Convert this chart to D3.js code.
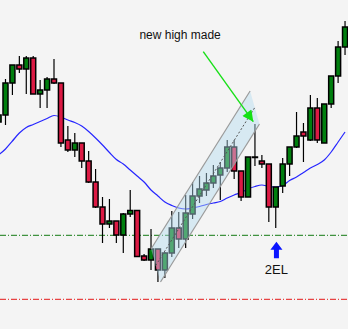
<!DOCTYPE html>
<html>
<head>
<meta charset="utf-8">
<script src="https://cdn.jsdelivr.net/npm/d3@7"></script>
<style>
  body { margin: 0; background: #f4f4f4; }
  svg { display: block; }
</style>
</head>
<body>
<div id="chart"></div>
<script>
// candle data (price units)
const opens  = [207,214,246,264,260,271,235,239,250,246,189,179,186,168,147,122,105,108,94,115,118.5,73,69,80,59,76,101,90,115,133,139,146,154,161,182,158,132,172,168,165,122,143,165,182,197,189,221,186,225,253,282];
const highs  = [217,250,264,273,273,273,249,252,270,246,203,196,186,178,160,132,130,108,116,139,118.5,75,100,80,77,118,117,134,147,153,156,164,167,189,189,158,172,205,174,165,142,171,182,217,206,234,231,225,253,288,308];
const lows   = [203,204,234,256,235,235,221,221,245,182,177,172,161,146,121,86,101,86,76,112,72,68,59,47,51,72,81,81,110,126,133,141,129,157,150,128,132,163,161,107,101,136,153,181,167,188,186,186,221,246,274];
const closes = [214,246,264,260,271,235,239,250,246,186,179,186,168,147,122,105,108,94,115,118.5,72.5,69,80,59,76,101,90,116,133,140,146,153,161,182,158,132,172,172,165,122,142,165,182,193,193,221,189,225,253,282,302];

// moving average
const maValues = [174,180,188,196,201.5,204.5,207.5,210.5,213.5,212,209,206.5,203,197.5,191,184,176.5,169.5,165,159,153,147,139,133,127,123.5,121,120,121,122.5,124.5,126,127.5,131,134,136.5,140,142.5,144,142.5,142,143.5,148.5,152,156.5,161,164.5,169,177,187,197];

// horizontal levels
const levelValues = [93.7, 29.7];
const levelColors = ["#137a13", "#e41818"];

// channel corners [index, price]
const channelPts = [[22.0, 80], [36.3, 238], [37.65, 205], [23.37, 47]];
const channelMid = [[22.68, 63.5], [36.98, 221.5]];

// annotations
const noteArrow = [[29.54, 277.3], [36.76, 207.3]];
const noteText = { i: 26.2, p: 290, label: "new high made" };
const signal = { i: 40.1, tip: 87.3, tail: 70.7, label: "2EL", textP: 55 };

const W = 348, H = 329;
const n = opens.length;

const svg = d3.select("#chart").append("svg")
    .attr("width", W)
    .attr("height", H);

svg.append("rect").attr("width", W).attr("height", H).attr("fill", "#f4f4f4");

const x = d3.scaleBand()
    .domain(d3.range(n))
    .range([-4.9, 348.5])
    .padding(0);
const cx = i => x(Math.floor(i)) + x.bandwidth() / 2 + (i - Math.floor(i)) * x.step();
const y = d3.scaleLinear().domain([0, 329]).range([329, 0]);

// levels
svg.selectAll(".level")
    .data(levelValues)
    .join("line")
    .attr("class", "level")
    .attr("x1", 0).attr("x2", W)
    .attr("y1", d => y(d)).attr("y2", d => y(d))
    .attr("stroke", (d, i) => levelColors[i])
    .attr("stroke-width", 1)
    .attr("stroke-dasharray", "6,2,1,2");

// moving average
svg.append("path")
    .datum(maValues)
    .attr("fill", "none")
    .attr("stroke", "#2626ff")
    .attr("stroke-width", 1.2)
    .attr("d", d3.line().x((d, i) => cx(i)).y(d => y(d)).curve(d3.curveMonotoneX));

// candles
const candles = d3.range(n).map(i => ({ i, o: opens[i], h: highs[i], l: lows[i], c: closes[i] }));
const bodyW = 5;

svg.selectAll(".wick")
    .data(candles)
    .join("line")
    .attr("class", "wick")
    .attr("x1", d => cx(d.i)).attr("x2", d => cx(d.i))
    .attr("y1", d => y(d.h)).attr("y2", d => y(d.l))
    .attr("stroke", "#000")
    .attr("stroke-width", 1.2);

svg.selectAll(".body")
    .data(candles)
    .join("rect")
    .attr("class", "body")
    .attr("x", d => cx(d.i) - bodyW / 2)
    .attr("width", bodyW)
    .attr("y", d => y(Math.max(d.o, d.c)))
    .attr("height", d => Math.max(0.5, Math.abs(y(d.o) - y(d.c))))
    .attr("fill", d => d.c > d.o ? "#007f0e" : (d.c < d.o ? "#dc1a44" : "#000"))
    .attr("stroke", "#000")
    .attr("stroke-width", 1.5);

// channel
svg.append("path")
    .attr("d", "M" + channelPts.map(p => [cx(p[0]), y(p[1])].join(",")).join("L") + "Z")
    .attr("fill", "#b3dcf0")
    .attr("fill-opacity", 0.45)
    .attr("stroke", "none");

[[channelPts[0], channelPts[1]], [channelPts[3], channelPts[2]]].forEach(seg => {
    svg.append("line")
        .attr("x1", cx(seg[0][0])).attr("y1", y(seg[0][1]))
        .attr("x2", cx(seg[1][0])).attr("y2", y(seg[1][1]))
        .attr("stroke", "#9a9a9a")
        .attr("stroke-width", 1.2);
});

svg.append("line")
    .attr("x1", cx(channelMid[0][0])).attr("y1", y(channelMid[0][1]))
    .attr("x2", cx(channelMid[1][0])).attr("y2", y(channelMid[1][1]))
    .attr("stroke", "#555")
    .attr("stroke-width", 1)
    .attr("stroke-dasharray", "2,2");

// green note arrow
const defs = svg.append("defs");
defs.append("marker")
    .attr("id", "greenHead")
    .attr("viewBox", "0 0 10 10")
    .attr("refX", 10).attr("refY", 5)
    .attr("markerWidth", 13).attr("markerHeight", 11)
    .attr("markerUnits", "userSpaceOnUse")
    .attr("orient", "auto")
    .append("path")
    .attr("d", "M0,0L10,5L0,10Z")
    .attr("fill", "#14e014");

svg.append("line")
    .attr("x1", cx(noteArrow[0][0])).attr("y1", y(noteArrow[0][1]))
    .attr("x2", cx(noteArrow[1][0])).attr("y2", y(noteArrow[1][1]))
    .attr("stroke", "#18e018")
    .attr("stroke-width", 1.4)
    .attr("marker-end", "url(#greenHead)");

svg.append("text")
    .attr("x", cx(noteText.i))
    .attr("y", y(noteText.p))
    .attr("text-anchor", "middle")
    .style("font-family", "Liberation Sans, Arial, sans-serif")
    .style("font-size", "12px")
    .attr("fill", "#111")
    .text(noteText.label);

// blue signal arrow
const sx = cx(signal.i), tipY = y(signal.tip), tailY = y(signal.tail);
svg.append("path")
    .attr("d", `M${sx},${tipY}L${sx + 6},${tipY + 8}L${sx + 2.5},${tipY + 8}L${sx + 2.5},${tailY}L${sx - 2.5},${tailY}L${sx - 2.5},${tipY + 8}L${sx - 6},${tipY + 8}Z`)
    .attr("fill", "#0a14ff");

svg.append("text")
    .attr("x", sx)
    .attr("y", y(signal.textP))
    .attr("text-anchor", "middle")
    .style("font-family", "Liberation Sans, Arial, sans-serif")
    .style("font-size", "13px")
    .attr("fill", "#111")
    .text(signal.label);
</script>
</body>
</html>
